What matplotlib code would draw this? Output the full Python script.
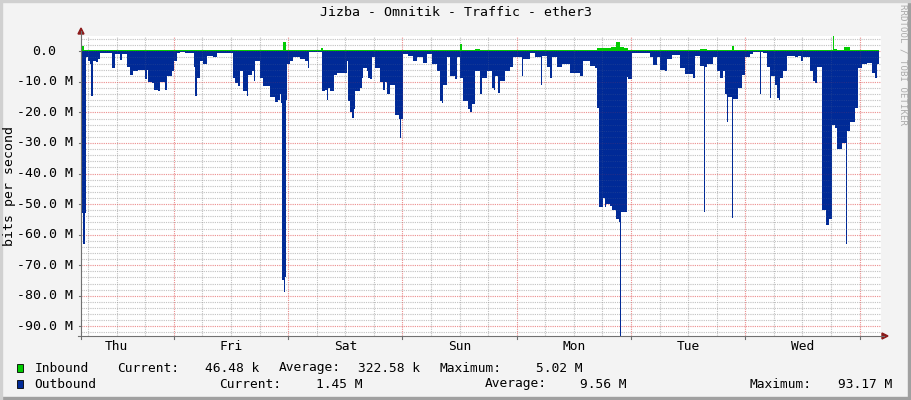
import numpy as np
import matplotlib.pyplot as plt
from matplotlib.lines import Line2D
from matplotlib.patches import Rectangle, Polygon
from matplotlib.transforms import blended_transform_factory

# time axis: hours since Thu 00:00, one week shown
t_start = 4.5
t_end = t_start + 168
days = ['Thu', 'Fri', 'Sat', 'Sun', 'Mon', 'Tue', 'Wed']

# outbound traffic (Mbit/s, drawn negative), sample start hours
out_hours = [
    4.50, 4.98, 5.40, 5.55, 5.97, 6.39, 6.60, 7.02, 7.65, 8.07,
    8.49, 10.17, 11.01, 11.64, 12.69, 13.11, 14.16, 14.79, 15.42, 16.47,
    17.94, 18.36, 18.57, 19.41, 19.83, 20.67, 21.09, 22.14, 22.56, 23.19,
    23.61, 24.03, 24.66, 25.29, 26.34, 27.39, 28.23, 28.44, 28.86, 29.49,
    30.12, 30.96, 32.22, 33.06, 34.74, 36.21, 36.42, 36.84, 37.47, 37.89,
    38.52, 39.36, 39.57, 40.41, 40.83, 41.04, 42.09, 42.72, 44.19, 45.24,
    45.87, 46.29, 46.50, 46.71, 47.13, 47.34, 47.55, 47.76, 48.39, 49.02,
    50.49, 51.54, 52.17, 52.38, 53.64, 55.11, 55.74, 56.16, 56.37, 56.79,
    57.63, 58.26, 60.15, 60.36, 60.57, 60.99, 61.41, 61.83, 62.04, 63.09,
    63.51, 63.72, 64.56, 64.77, 65.19, 65.61, 66.24, 67.29, 67.92, 68.34,
    68.76, 69.39, 70.44, 71.28, 71.49, 71.70, 72.12, 73.17, 74.22, 75.06,
    76.32, 77.16, 78.21, 79.26, 79.89, 80.31, 80.52, 81.36, 81.99, 83.04,
    83.46, 84.09, 84.72, 85.77, 86.19, 86.61, 87.24, 88.29, 88.71, 89.76,
    90.81, 91.23, 91.44, 92.07, 92.49, 93.54, 94.59, 95.22, 97.11, 97.32,
    98.79, 99.84, 101.10, 101.31, 102.36, 102.99, 103.41, 104.46, 105.51, 107.19,
    109.29, 109.92, 111.39, 112.44, 112.86, 113.28, 114.12, 114.54, 114.75, 115.59,
    116.01, 116.85, 117.48, 117.69, 117.90, 119.16, 119.37, 120.21, 121.89, 123.99,
    124.62, 125.46, 126.09, 127.14, 127.56, 128.61, 130.29, 131.34, 133.02, 133.44,
    134.49, 135.33, 135.54, 135.96, 137.22, 138.06, 138.69, 139.32, 139.74, 140.16,
    140.37, 141.21, 141.42, 142.47, 143.31, 143.94, 144.99, 145.62, 147.09, 147.30,
    147.72, 148.56, 149.19, 149.40, 150.24, 150.66, 151.08, 151.29, 151.92, 152.76,
    154.44, 155.07, 155.70, 156.12, 157.59, 158.22, 158.64, 159.06, 160.11, 160.95,
    161.58, 162.21, 162.84, 163.26, 164.31, 165.15, 165.36, 165.99, 167.04, 167.67,
    168.51, 169.56, 170.61, 171.24, 171.66, 172.08,
]
out_mbps = [
    53, 63, 53, 2, 3, 4, 14.5, 3, 3.5, 2.5,
    0.5, 0.6, 5.4, 1, 2.7, 1, 5, 7.6, 6.5, 6,
    9.2, 6, 10, 10.5, 12.5, 13, 10, 12.5, 8, 8,
    6.5, 3, 0.5, 0.3, 0.5, 0.4, 5, 14.5, 8.7, 3,
    4.3, 1.5, 2, 0.5, 0.4, 0.5, 8.7, 10.5, 11.4, 6.5,
    13, 14.7, 7.6, 6.5, 9.8, 3.2, 8.7, 11.5, 15, 16.5,
    16, 14, 17, 75, 78.7, 74, 16, 4.3, 3, 2,
    2.5, 3, 5.4, 0.3, 0.3, 13, 12.5, 15.8, 12, 13,
    7.6, 7, 7, 3, 16.3, 20, 21.8, 19, 13, 12,
    8.7, 5.5, 6.5, 8.7, 9.2, 2, 5.4, 10, 12.5, 10,
    14, 11, 21, 22, 28.4, 22, 1, 1.5, 3.2, 2,
    3.8, 1, 4.3, 6.5, 16.3, 16.8, 11, 2, 8, 9.2,
    2, 8.7, 16.3, 19, 19.8, 17.4, 6.5, 14, 8.7, 6.5,
    12, 12.5, 8, 13.6, 9.8, 6.5, 5, 2, 8.1, 2.5,
    0.5, 1.8, 10.9, 1.5, 5, 8.7, 2, 5, 4, 7,
    8.1, 3.2, 4.9, 5.4, 18.5, 51, 48, 51, 50, 50.5,
    52, 55, 56, 93.17, 52.6, 8.4, 9, 0.5, 0.4, 2,
    4.5, 2, 6, 6.5, 2.5, 1.2, 5.5, 7.5, 8.7, 1.5,
    4.9, 52.6, 5, 4, 2, 6.5, 8.7, 6.5, 14, 23,
    15, 54.6, 15.5, 12, 7.6, 2, 1, 0.2, 14, 0.3,
    0.5, 5, 15.3, 8, 11, 15.3, 16, 8.7, 6.5, 1.5,
    2, 1.5, 3, 1.8, 6.5, 9.8, 10.5, 5, 52, 57,
    55, 24, 25, 32, 30, 63, 26, 23, 18.5, 5.5,
    4.3, 3.8, 7, 8.7, 4.3, 0,
]

# inbound traffic (Mbit/s)
in_hours = [
    4.50, 5.13, 14.79, 17.94, 46.50, 46.92, 47.55, 54.90, 55.32, 60.15,
    62.04, 84.09, 84.51, 87.24, 88.29, 91.44, 92.49, 112.86, 115.80, 116.85,
    117.69, 118.53, 119.37, 134.49, 135.96, 138.69, 139.53, 141.21, 141.63, 143.94,
    157.59, 162.42, 162.63, 163.26, 164.73, 165.99, 172.08,
]
in_mbps = [
    1.6, 0.3, 0.5, 0.3, 0.5, 2.9, 0.3, 1.1, 0.3, 0.5,
    0.3, 2.4, 0.4, 0.7, 0.3, 0.6, 0.3, 1.0, 1.3, 3.0,
    1.5, 1.0, 0.3, 0.7, 0.3, 0.5, 0.3, 1.8, 0.5, 0.3,
    0.5, 5.02, 0.8, 0.3, 1.5, 0.3, 0,
]

title = 'Jizba - Omnitik - Traffic - ether3'
legend_rows = [
    ('Inbound', [('Current:', '46.48 k'), ('Average:', '322.58 k'), ('Maximum:', '5.02 M')]),
    ('Outbound', [('Current:', '1.45 M'), ('Average:', '9.56 M'), ('Maximum:', '93.17 M')]),
]

W, H = 911, 400
BG = '#F3F3F3'
BLUE = '#002A97'
GREEN = '#00CC00'
MONO = 'DejaVu Sans Mono'


def fx(x):
    return x / W


def fy(y):
    return 1 - y / H


fig = plt.figure(figsize=(W / 100, H / 100), dpi=100, facecolor=BG)
ax = fig.add_axes([fx(81), fy(336), 800 / W, 300 / H])
ax.set_facecolor('white')
for s in ax.spines.values():
    s.set_visible(False)
ax.set_xticks([])
ax.set_yticks([])
ax.set_xlim(t_start, t_end)
ax.set_ylim(-max(out_mbps), max(in_mbps))

ax.fill_between(out_hours, -np.array(out_mbps), 0, step='post',
                color=BLUE, lw=0, zorder=2)
ax.fill_between(in_hours, in_mbps, 0, step='post',
                color=GREEN, lw=0, zorder=2)


# dotted grid: full strength under the areas, faint on top of them
def grid_line(kind, pos, major):
    col = '#E04040' if major else '#909090'
    draw = ax.axvline if kind == 'v' else ax.axhline
    draw(pos, color=col, alpha=0.5 if major else 0.45, lw=0.8, ls=(0, (1, 1)), zorder=1)
    draw(pos, color=col, alpha=0.15, lw=0.8, ls=(0, (1, 1)), zorder=3)


for h in np.arange(6, t_end, 6):
    if h > t_start:
        grid_line('v', h, h % 24 == 0)
for v in np.arange(-92, 5, 2):
    grid_line('h', v, v % 10 == 0)

# axes with arrows
axis_col = '#707070'
arrow_col = '#8B1A1A'
fig.add_artist(Line2D([fx(81), fx(81)], [fy(339), fy(31)], color=axis_col,
                      lw=0.8, transform=fig.transFigure))
fig.add_artist(Line2D([fx(78), fx(884)], [fy(336), fy(336)], color=axis_col,
                      lw=0.8, transform=fig.transFigure))
fig.add_artist(Polygon([(fx(81), fy(28)), (fx(78), fy(34)), (fx(84), fy(34))],
                       closed=True, color=arrow_col, transform=fig.transFigure))
fig.add_artist(Polygon([(fx(888), fy(336)), (fx(882), fy(333)), (fx(882), fy(339))],
                       closed=True, color=arrow_col, transform=fig.transFigure))

# y labels and ticks
ytr = blended_transform_factory(fig.transFigure, ax.transData)
for v in range(-90, 1, 10):
    if v == 0:
        ax.text(fx(56.5), v, '0.0', transform=ytr, ha='right', va='center',
                family=MONO, size=9.5)
    else:
        ax.text(fx(73), v, f'{v:.1f} M', transform=ytr, ha='right', va='center',
                family=MONO, size=9.5)
    ax.add_line(Line2D([fx(78.5), fx(81)], [v, v], transform=ytr,
                       color=axis_col, lw=0.8, clip_on=False))

# x labels and ticks
xtr = blended_transform_factory(ax.transData, fig.transFigure)
for i, d in enumerate(days):
    ax.text(12 + 24 * i, fy(347), d, transform=xtr, ha='center', va='center',
            family=MONO, size=9.3)
for h in range(24, int(t_end), 24):
    ax.add_line(Line2D([h, h], [fy(336), fy(338.5)], transform=xtr,
                       color=axis_col, lw=0.8, clip_on=False))

fig.text(fx(455.5), fy(13), title, ha='center', va='center', family=MONO, size=9.5)
fig.text(fx(10), fy(186), 'bits per second', rotation=90, ha='center', va='center',
         family=MONO, size=9.5)
fig.text(fx(903), fy(4), 'RRDTOOL / TOBI OETIKER', rotation=270, ha='center', va='top',
         family=MONO, size=6.6, color='#ABABAB')

# legend
row_y = [368, 384]
stat_x = [
    [(116.7, 204.7), (279, 358.3), (440, 536)],
    [(219.3, 315.7), (485, 580), (749.3, 837.7)],
]
for (name, stats), y, xs, col in zip(legend_rows, row_y, stat_x, [GREEN, BLUE]):
    fig.add_artist(Rectangle((fx(17), fy(y + 4)), 6 / W, 8 / H, facecolor=col,
                             edgecolor='black', lw=0.6, transform=fig.transFigure))
    fig.text(fx(34.3), fy(y), name, ha='left', va='center', family=MONO, size=9.3)
    for (lab, val), (lx, vx) in zip(stats, xs):
        fig.text(fx(lx), fy(y), lab, ha='left', va='center', family=MONO, size=9.3)
        fig.text(fx(vx), fy(y), val, ha='left', va='center', family=MONO, size=9.3)

# 3D-ish frame
fig.add_artist(Rectangle((fx(908), 0), 3 / W, 1, color='#A0A0A0', transform=fig.transFigure))
fig.add_artist(Rectangle((0, 0), 1, 3 / H, color='#A0A0A0', transform=fig.transFigure))
fig.add_artist(Rectangle((0, 0), 2 / W, 1, color='#D0D0D0', transform=fig.transFigure))
fig.add_artist(Rectangle((0, fy(2)), 1, 2 / H, color='#D0D0D0', transform=fig.transFigure))

fig.savefig('out.png', dpi=100, facecolor=BG)
